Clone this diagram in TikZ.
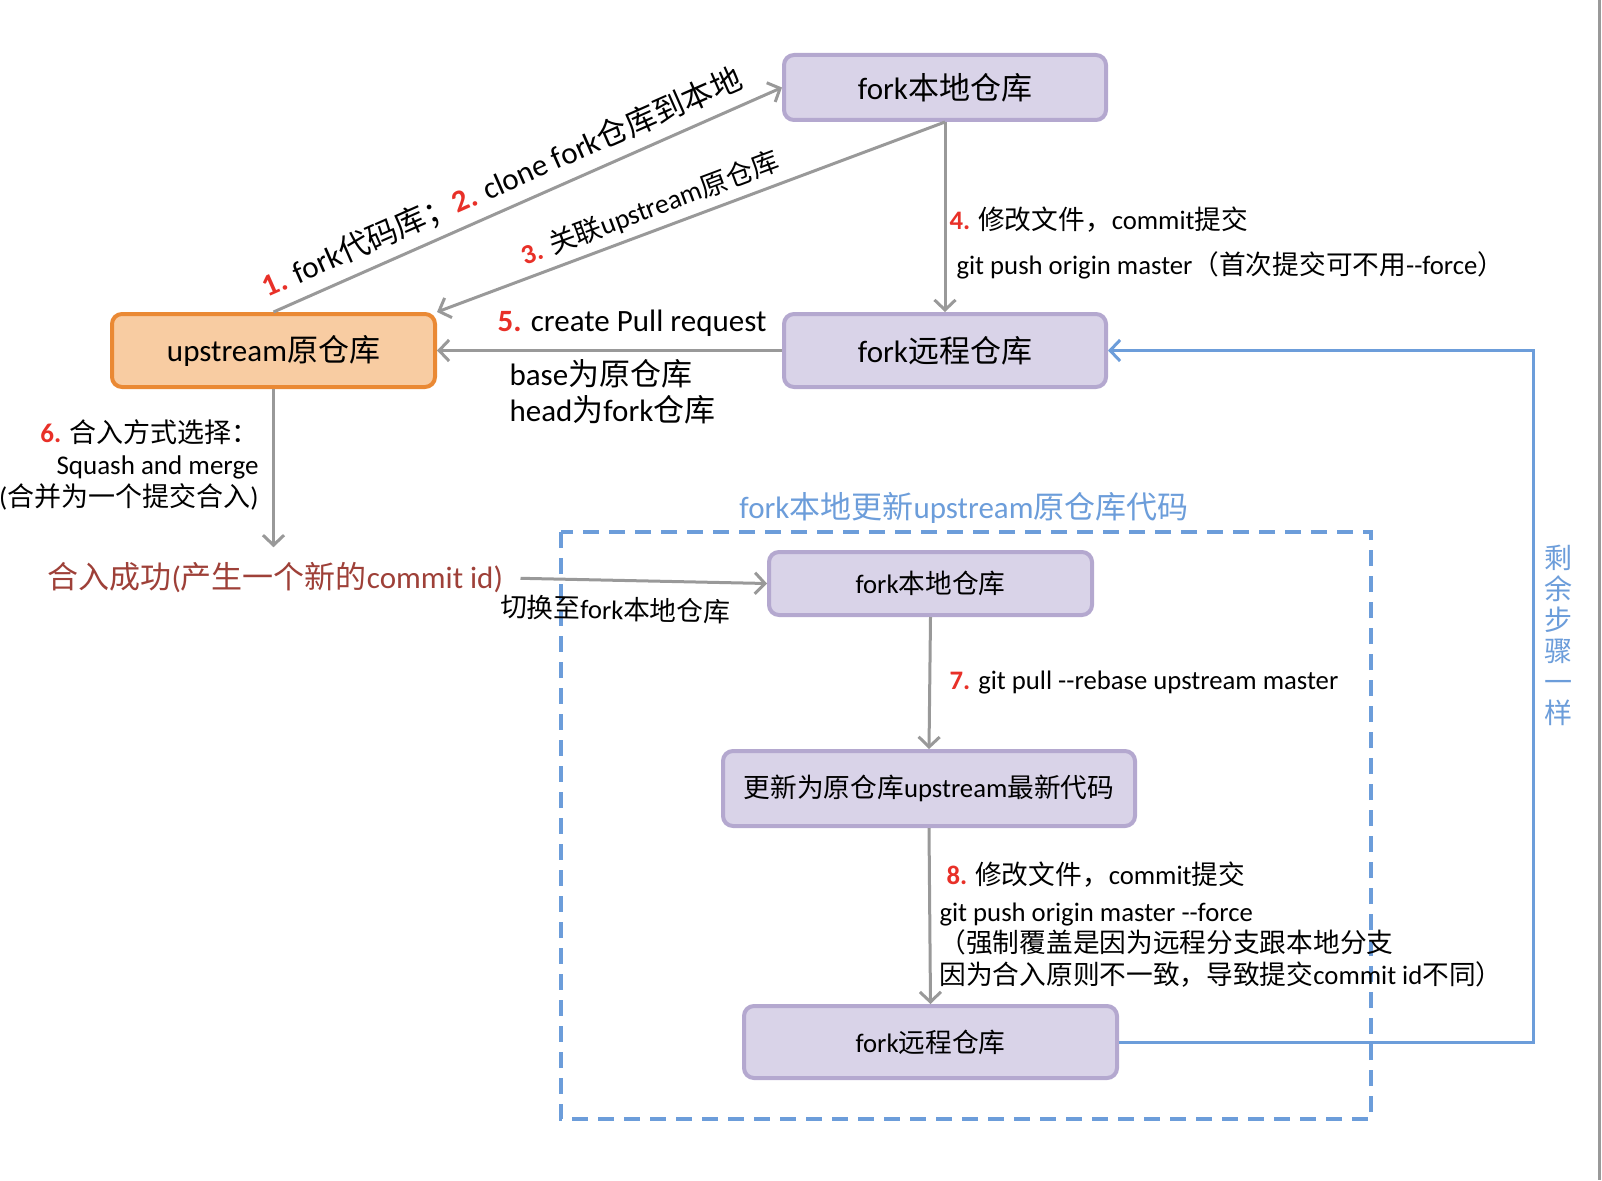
\documentclass[tikz,border=0pt]{standalone}
\usepackage{fontspec}
\setmainfont{Carlito}
\newfontfamily\zhfont{Noto Sans CJK SC}
\usetikzlibrary{arrows.meta}

\definecolor{boxfill}{RGB}{217,211,232}
\definecolor{boxline}{RGB}{180,168,207}
\definecolor{upfill}{RGB}{248,204,162}
\definecolor{upline}{RGB}{234,137,52}
\definecolor{arrgray}{RGB}{153,153,153}
\definecolor{stepred}{RGB}{232,48,40}
\definecolor{syncblue}{RGB}{108,157,218}
\definecolor{okbrown}{RGB}{158,64,56}

\newcommand{\zh}[1]{{\zhfont #1}}
\newcommand{\stepno}[1]{{\bfseries\color{stepred}#1}}

\begin{document}
\begin{tikzpicture}[x=1pt,y=-1pt,
  big/.style={font=\fontsize{31}{37}\selectfont},
  small/.style={font=\fontsize{26.7}{32}\selectfont},
  repo/.style={draw=boxline, fill=boxfill, line width=4pt, rounded corners=10pt},
  flow/.style={draw=arrgray, line width=3pt, -{Straight Barb[length=10pt,width=21pt]}},
  back/.style={draw=syncblue, line width=3pt, -{Straight Barb[length=10pt,width=21pt]}},
  frame/.style={draw=syncblue, line width=4pt, dash pattern=on 16pt off 10pt}]

\useasboundingbox (0,0) rectangle (1602,1180);

%\draw[help lines] (0,0) grid[step=100] (1602,1180);

%% Repositories
\node[repo, big, minimum width=322pt, minimum height=65pt] (loc) at (945,87.5) {fork\zh{本地仓库}};
\node[repo, big, draw=upline, fill=upfill, minimum width=323pt, minimum height=73pt] (up) at (273.5,350.5) {upstream\zh{原仓库}};
\node[repo, big, minimum width=322pt, minimum height=73pt] (rem) at (945,350.5) {fork\zh{远程仓库}};

%% Steps 1, 2 and 3
\draw[flow] (up.north) -- node[sloped, above, pos=0.47, inner sep=9pt, big] (lbl12)
  {\stepno{1.} fork\zh{代码库；}\stepno{2.} clone fork\zh{仓库到本地}} (loc.west);
\draw[flow] (loc.south) -- node[sloped, above, pos=0.565, inner sep=7pt, font=\fontsize{27.5}{33}\selectfont] (lbl3)
  {\stepno{3.} \zh{关联}upstream\zh{原仓库}} (up.north east);

%% Step 4
\draw[flow] (loc.south) -- (rem.north);
\node[small, anchor=west] (lbl4) at (946,220) {\stepno{4.} \zh{修改文件，}commit\zh{提交}};
\node[small, anchor=west] (push4) at (953,265) {git push origin master\zh{（首次提交可不用}-{}-force\zh{）}};

%% Step 5
\draw[flow] (rem.west) -- (up.east);
\node[big, anchor=west] (lbl5) at (494,323) {\stepno{5.} create Pull request};
\node[anchor=west, align=left, font=\fontsize{31}{36}\selectfont] (basehead) at (506,392)
  {base\zh{为原仓库}\\head\zh{为}fork\zh{仓库}};

%% Step 6
\node[big, text=okbrown, anchor=west] (ok) at (44,578) {\zh{合入成功}(\zh{产生一个新的}commit id)};
\draw[flow, shorten >=12pt] (up.south) -- (up.south |- ok.north);
\node[anchor=east, align=right, font=\fontsize{27}{32}\selectfont] (lbl6) at (262,465)
  {\stepno{6.} \zh{合入方式选择：}\\Squash and merge\\(\zh{合并为一个提交合入})};

%% fork local sync
\draw[frame] (561,532) rectangle (1371,1119);
\node[big, text=syncblue] (synctitle) at (964,508) {fork\zh{本地更新}upstream\zh{原仓库代码}};

\node[repo, small, minimum width=323pt, minimum height=63pt] (l2) at (930.5,583.5) {fork\zh{本地仓库}};
\node[repo, small, minimum width=412pt, minimum height=75pt] (upd) at (929,788.5) {\zh{更新为原仓库}upstream\zh{最新代码}};
\node[repo, small, minimum width=373pt, minimum height=72pt] (r2) at (930.5,1042) {fork\zh{远程仓库}};

\draw[flow, shorten <=14pt] (ok.east) -- node[sloped, below, pos=0.42, inner sep=15pt, small] (switch) {\zh{切换至}fork\zh{本地仓库}} (l2.west);

%% Step 7
\draw[flow] (l2.south) -- (upd.north);
\node[small, anchor=west] (lbl7) at (946,683) {\stepno{7.} git pull -{}-rebase upstream master};

%% Step 8
\draw[flow] (upd.south) -- (r2.north);
\node[small, anchor=west] (lbl8) at (943,875) {\stepno{8.} \zh{修改文件，}commit\zh{提交}};
\node[anchor=west, align=left, font=\fontsize{26.7}{31.5}\selectfont] (push8) at (936,945)
  {git push origin master -{}-force\\\zh{（强制覆盖是因为远程分支跟本地分支}\\\zh{因为合入原则不一致，导致提交}commit id\zh{不同）}};

%% Remaining steps
\coordinate (turn) at (1533,700);
\draw[back] (r2.east) -| (turn) |- (rem.east);
\node[align=center, text=syncblue, font=\zhfont\fontsize{28}{31}\selectfont] (same) at (1558,635)
  {剩\\余\\步\\骤\\一\\样};

%% page edge
\draw[draw=arrgray, line width=3pt] (1599.5,0) -- (1599.5,1180);

\end{tikzpicture}
\end{document}
